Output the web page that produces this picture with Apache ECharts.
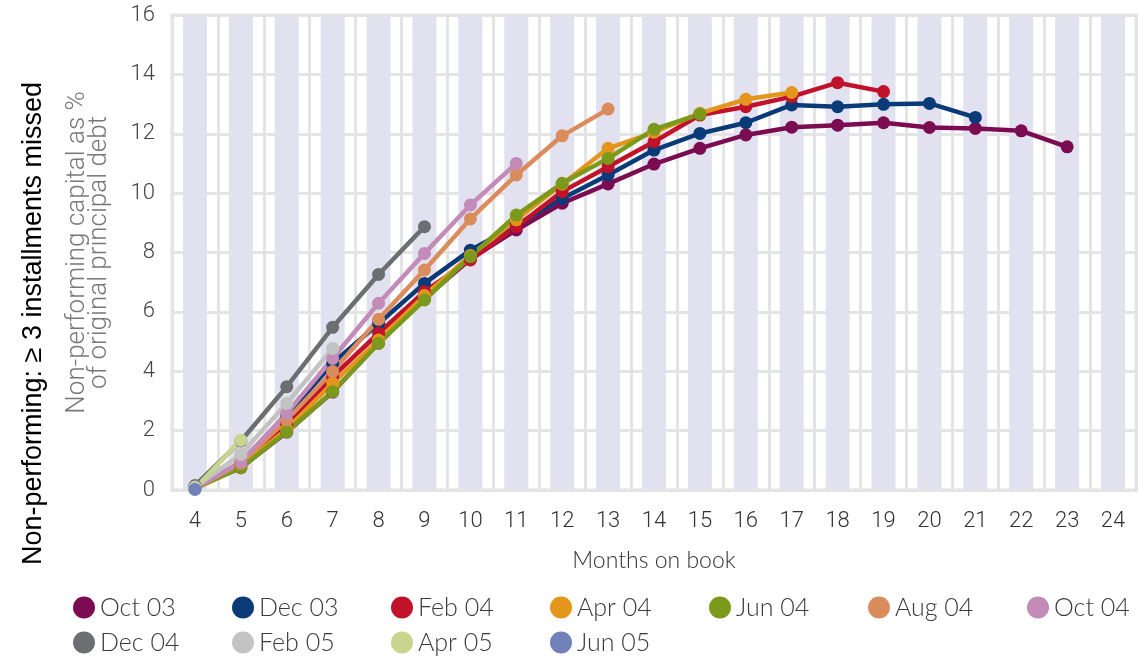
<!DOCTYPE html>
<html>
<head>
<meta charset="utf-8">
<script src="https://cdn.jsdelivr.net/npm/echarts@6/dist/echarts.min.js"></script>
<style>
  html, body { margin: 0; padding: 0; background: #fff; }
  #main { width: 1141px; height: 658px; }
</style>
</head>
<body>
<div id="main"></div>
<script>
// months on book, 4..24
const months = ['4', '5', '6', '7', '8', '9', '10', '11', '12', '13', '14', '15', '16', '17', '18', '19', '20', '21', '22', '23', '24'];

const cohorts = ['Oct 03', 'Dec 03', 'Feb 04', 'Apr 04', 'Jun 04', 'Aug 04', 'Oct 04', 'Dec 04', 'Feb 05', 'Apr 05', 'Jun 05'];
const colors = ['#7b0c52', '#0b3a78', '#c1122b', '#e3961b', '#7b991b', '#da8c5c', '#c28bb8', '#6d6e71', '#c3c3c3', '#c9d58e', '#7181b9'];

const oct03 = [0.1, 0.75, 1.95, 3.3, 4.95, 6.45, 7.78, 8.76, 9.66, 10.31, 10.98, 11.51, 11.96, 12.22, 12.29, 12.37, 12.21, 12.18, 12.1, 11.56];
const dec03 = [0.1, 0.9, 2.5, 4.27, 5.61, 6.96, 8.08, 8.93, 9.82, 10.61, 11.45, 12.01, 12.37, 12.97, 12.91, 12.99, 13.02, 12.55];
const feb04 = [0.05, 0.85, 2.2, 3.82, 5.28, 6.68, 7.75, 8.87, 10.05, 10.89, 11.73, 12.63, 12.91, 13.25, 13.72, 13.42];
const apr04 = [0.05, 0.8, 2.05, 3.6, 5.05, 6.55, 7.9, 9.1, 10.3, 11.51, 12.05, 12.69, 13.16, 13.39];
const jun04 = [0.05, 0.75, 1.96, 3.31, 4.94, 6.4, 7.86, 9.26, 10.33, 11.17, 12.15, 12.66];
const aug04 = [0.05, 0.9, 2.36, 3.99, 5.75, 7.41, 9.13, 10.61, 11.93, 12.83];
const oct04 = [0.05, 0.95, 2.58, 4.43, 6.29, 7.97, 9.6, 11.0];
const dec04 = [0.15, 1.65, 3.48, 5.48, 7.26, 8.87];
const feb05 = [0.1, 1.2, 2.92, 4.77];
const apr05 = [0.05, 1.68];
const jun05 = [0.02];

const cohortData = [oct03, dec03, feb04, apr04, jun04, aug04, oct04, dec04, feb05, apr05, jun05];

// lavender column bands behind each month
const bandTop = months.map(() => 16);

const legendLeft = [68, 227, 386, 545, 704, 863, 1022, 68, 227, 386, 545];
const legendTop = [590, 590, 590, 590, 590, 590, 590, 625, 625, 625, 625];

const chart = echarts.init(document.getElementById('main'));

const lineSeries = cohorts.map((name, i) => ({
  name: name,
  type: 'line',
  data: cohortData[i],
  z: 5,
  symbol: 'circle',
  symbolSize: 13,
  color: colors[i],
  lineStyle: { width: 4.5, color: colors[i] },
  itemStyle: { color: colors[i] },
  emphasis: { disabled: true }
}));

const legends = cohorts.map((name, i) => ({
  data: [name],
  left: legendLeft[i],
  top: legendTop[i],
  icon: 'circle',
  itemWidth: 22,
  itemHeight: 22,
  itemGap: 6,
  selectedMode: false,
  textStyle: { fontFamily: 'Lato', fontWeight: 300, fontSize: 25, color: '#3a3a3a', padding: [0, 0, 0, 0] }
}));

chart.setOption({
  animation: false,
  backgroundColor: '#fff',
  grid: {
    left: 172, right: 5, top: 15, bottom: 168,
    show: true, borderColor: '#e4e4e4', borderWidth: 3
  },
  legend: legends,
  xAxis: [{
    type: 'category',
    data: months,
    z: 3,
    name: 'Months on book',
    nameLocation: 'middle',
    nameGap: 59,
    nameTextStyle: { fontFamily: 'Lato', fontWeight: 300, fontSize: 23, color: '#333' },
    axisLine: { show: true, lineStyle: { color: '#e4e4e4', width: 3 } },
    axisTick: { show: false },
    axisLabel: { margin: 20, fontFamily: 'Roboto', fontWeight: 300, fontSize: 22, color: '#333' },
    splitLine: { show: true, lineStyle: { color: '#e4e4e4', width: 3 } }
  }, {
    type: 'category',
    data: months,
    position: 'top',
    z: 3,
    axisLine: { show: true, lineStyle: { color: '#e4e4e4', width: 3 } },
    axisTick: { show: false },
    axisLabel: { show: false },
    splitLine: { show: false }
  }],
  yAxis: {
    type: 'value',
    min: 0,
    max: 16,
    interval: 2,
    name: 'Non-performing capital as %\nof original principal debt',
    nameLocation: 'middle',
    nameGap: 62,
    nameTextStyle: { fontFamily: 'Roboto', fontWeight: 300, fontSize: 26, color: '#777', lineHeight: 22 },
    axisLine: { show: false },
    axisTick: { show: false },
    axisLabel: { margin: 17, fontFamily: 'Roboto', fontWeight: 300, fontSize: 22, color: '#444' },
    splitLine: { show: true, lineStyle: { color: '#e4e4e4', width: 3 } }
  },
  graphic: [{
    type: 'text',
    left: 20,
    top: 82,
    rotation: Math.PI / 2,
    style: {
      text: 'Non-performing: \u2265 3 installments missed',
      font: '27px "Liberation Sans", Arial, sans-serif',
      fill: '#000'
    }
  }],
  series: [{
    type: 'bar',
    data: bandTop,
    barWidth: 24,
    z: 1,
    silent: true,
    itemStyle: { color: '#e1e1ef' },
    emphasis: { disabled: true }
  }].concat(lineSeries)
});
</script>
</body>
</html>
